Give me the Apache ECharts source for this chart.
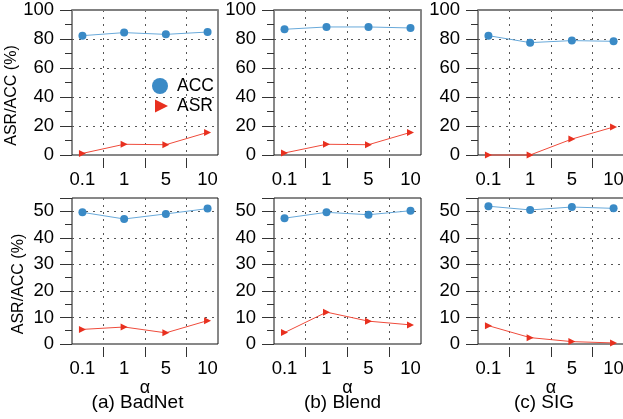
<!DOCTYPE html>
<html>
<head>
<meta charset="utf-8">
<script src="https://cdn.jsdelivr.net/npm/echarts@6/dist/echarts.min.js"></script>
<style>
  html, body { margin: 0; padding: 0; background: #fff; }
  #chart { width: 623px; height: 419px; }
</style>
</head>
<body>
<div id="chart"></div>
<script>
// x categories (alpha)
var alphaLabels = ['0.1', '1', '5', '10'];

// top row (0-100)
var accBadNetTop = [82.3, 84.4, 83.2, 84.8];
var asrBadNetTop = [1.1, 7.4, 7.1, 15.6];
var accBlendTop = [86.7, 88.3, 88.3, 87.6];
var asrBlendTop = [1.4, 7.4, 7.1, 15.6];
var accSigTop = [82.3, 77.5, 78.9, 78.4];
var asrSigTop = [0.0, 0.0, 11.0, 19.3];

// bottom row (0-55)
var accBadNetBottom = [49.6, 47.1, 49.0, 51.0];
var asrBadNetBottom = [5.5, 6.4, 4.2, 8.8];
var accBlendBottom = [47.4, 49.6, 48.7, 50.2];
var asrBlendBottom = [4.3, 12.0, 8.6, 7.2];
var accSigBottom = [51.9, 50.5, 51.6, 51.1];
var asrSigBottom = [6.9, 2.4, 0.9, 0.4];

var subTitles = ['(a) BadNet', '(b) Blend', '(c) SIG'];

var FONT = '"Liberation Sans", Arial, Helvetica, sans-serif';
var ACC_COLOR = '#3a8ac6', ACC_LINE = '#68a9da';
var ASR_COLOR = '#e8301f', ASR_LINE = '#ef4b3b';

var panelData = [
    [[accBadNetTop, asrBadNetTop], [accBlendTop, asrBlendTop], [accSigTop, asrSigTop]],
    [[accBadNetBottom, asrBadNetBottom], [accBlendBottom, asrBlendBottom], [accSigBottom, asrSigBottom]]
];

var cols = [{left: 72, width: 146}, {left: 274, width: 147}, {left: 478, width: 146}];
var rows = [
    {top: 10, height: 145, max: 100, interval: 20},
    {top: 198, height: 146, max: 55, interval: 10}
];

// dotted grid lines
var dotted = {color: '#555', width: 1, type: [2, 5]};

var grids = [], xAxes = [], yAxes = [], series = [];

rows.forEach(function(row, r){
    cols.forEach(function(col, c){
        var g = grids.length;
        grids.push({
            left: col.left, top: row.top, width: col.width, height: row.height,
            show: true, borderColor: '#111', borderWidth: 1,
            outerBoundsMode: 'none'
        });
        // data axis: dotted vertical lines between alphas
        var dataAxis = xAxes.length;
        xAxes.push({
            gridIndex: g, type: 'value', min: -0.25, max: 3.25, position: 'bottom',
            axisLine: {show: false, onZero: false},
            axisTick: {show: false, customValues: [0.5, 1.5, 2.5]},
            axisLabel: {show: false},
            splitLine: {show: true, lineStyle: dotted}
        });
        // detached ticks + labels below the frame
        xAxes.push({
            gridIndex: g, type: 'value', min: -0.25, max: 3.25, position: 'bottom', offset: 3,
            axisLine: {show: false, onZero: false},
            axisTick: {show: true, length: 10, customValues: [0.5, 1.5, 2.5], lineStyle: {color: '#333'}},
            axisLabel: {
                customValues: [0, 1, 2, 3], margin: 12, fontSize: 18.5, color: '#000', fontFamily: FONT,
                formatter: function(v){ return alphaLabels[Math.round(v)]; }
            },
            splitLine: {show: false},
            name: r == 1 ? 'α' : '',
            nameLocation: 'middle', nameGap: 17,
            nameTextStyle: {fontSize: 18, color: '#000', fontFamily: FONT}
        });
        if (r == 0) {
            xAxes.push({
                gridIndex: g, type: 'value', min: -0.25, max: 3.25, position: 'top',
                axisLine: {show: true, onZero: false, lineStyle: {color: '#808080', width: 2}},
                axisTick: {show: false}, axisLabel: {show: false}, splitLine: {show: false}
            });
        }
        yAxes.push({
            gridIndex: g, type: 'value', min: 0, max: row.max, interval: row.interval,
            axisLine: {show: false, onZero: false},
            axisTick: {show: true, length: 12, lineStyle: {color: '#333'}},
            minorTick: {show: true, splitNumber: 2, length: 7, lineStyle: {color: '#333'}},
            axisLabel: {margin: 18, fontSize: 18.5, color: '#000', fontFamily: FONT, showMaxLabel: r == 0},
            splitLine: {show: true, showMinLine: false, showMaxLine: false, lineStyle: dotted},
            name: c == 0 ? 'ASR/ACC (%)' : '',
            nameLocation: 'middle', nameGap: 45,
            nameTextStyle: {fontSize: 16, color: '#000', fontFamily: FONT, padding: [0, 26, 0, 0]}
        });
        var acc = panelData[r][c][0], asr = panelData[r][c][1];
        series.push({
            type: 'line', name: 'ACC', xAxisIndex: dataAxis, yAxisIndex: g,
            data: acc.map(function(v, i){ return [i, v]; }),
            symbol: 'circle', symbolSize: 8, clip: false,
            itemStyle: {color: ACC_COLOR}, lineStyle: {color: ACC_LINE, width: 1}
        });
        series.push({
            type: 'line', name: 'ASR', xAxisIndex: dataAxis, yAxisIndex: g,
            data: asr.map(function(v, i){ return [i, v]; }),
            symbol: 'path://M0,0L10,5L0,10Z', symbolSize: 7, clip: false,
            itemStyle: {color: ASR_COLOR}, lineStyle: {color: ASR_LINE, width: 1}
        });
    });
});

var graphics = subTitles.map(function(t, i){
    var cx = [137.5, 342.5, 544][i];
    return {
        type: 'text', x: cx, y: 393,
        style: {text: t, fontSize: 19, fontFamily: FONT, fill: '#000', textAlign: 'center', textVerticalAlign: 'top'}
    };
});

var chart = echarts.init(document.getElementById('chart'));
chart.setOption({
    animation: false,
    textStyle: {fontFamily: FONT},
    grid: grids,
    xAxis: xAxes,
    yAxis: yAxes,
    legend: [
        {
            data: [{name: 'ACC', icon: 'circle'}], orient: 'vertical', left: 147, top: 72,
            itemWidth: 16, itemHeight: 16,
            textStyle: {fontSize: 17.5, color: '#000', padding: [0, 0, 0, 4], fontFamily: FONT}
        },
        {
            data: [{name: 'ASR', icon: 'path://M0,0L10,5L0,10Z'}], orient: 'vertical', left: 150, top: 92,
            itemWidth: 13, itemHeight: 13,
            textStyle: {fontSize: 17.5, color: '#000', padding: [0, 0, 0, 4], fontFamily: FONT}
        }
    ],
    graphic: graphics,
    series: series
});
</script>
</body>
</html>
